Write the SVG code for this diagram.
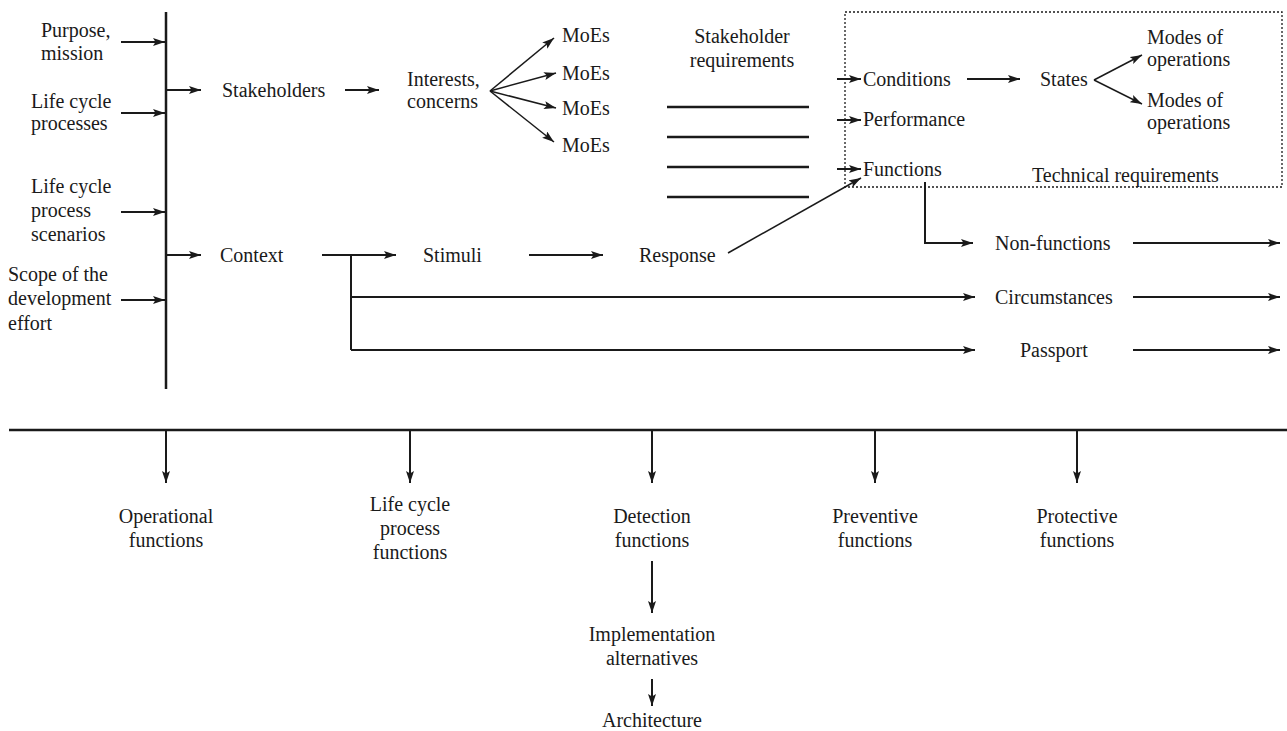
<svg xmlns="http://www.w3.org/2000/svg" width="1287" height="731" viewBox="0 0 1287 731">
  <defs>
    <marker id="arrow" markerUnits="userSpaceOnUse" markerWidth="12" markerHeight="8" refX="12" refY="4" orient="auto">
      <path d="M0,0 L12,4 L0,8 L2.5,4 z" fill="#1a1a1a"/>
    </marker>
    <style>
      .lbl text { font-family: 'Liberation Serif', Tinos, 'DejaVu Serif', serif; font-size: 20px; fill: #1a1a1a; }
      .c { text-anchor: middle; }
      .ln { stroke: #1a1a1a; stroke-width: 2; fill: none; }
      .bar { stroke: #1a1a1a; stroke-width: 2.5; fill: none; }
      .thin { stroke: #1a1a1a; stroke-width: 1.5; fill: none; }
      .arr { marker-end: url(#arrow); }
      .box { stroke: #1a1a1a; stroke-width: 1.3; stroke-dasharray: 2 2; fill: none; }
    </style>
  </defs>
  <rect width="1287" height="731" fill="#ffffff"/>

  <!-- connectors -->
  <g id="connectors">
    <!-- collector bar -->
    <line class="bar" x1="166" y1="12" x2="166" y2="389"/>
    <line class="ln arr" x1="121" y1="42" x2="165" y2="42"/>
    <line class="ln arr" x1="121" y1="113" x2="165" y2="113"/>
    <line class="ln arr" x1="121" y1="212" x2="165" y2="212"/>
    <line class="ln arr" x1="121" y1="300" x2="165" y2="300"/>
    <line class="ln arr" x1="166" y1="90" x2="201" y2="90"/>
    <line class="ln arr" x1="166" y1="255" x2="201" y2="255"/>
    <!-- stakeholders chain -->
    <line class="ln arr" x1="345" y1="90" x2="379" y2="90"/>
    <line class="thin arr" x1="490" y1="91" x2="554" y2="38"/>
    <line class="thin arr" x1="490" y1="91" x2="556" y2="73"/>
    <line class="thin arr" x1="490" y1="91" x2="556" y2="108"/>
    <line class="thin arr" x1="490" y1="91" x2="554" y2="142"/>
    <!-- stakeholder requirement rows -->
    <line class="bar" x1="667" y1="107" x2="809" y2="107"/>
    <line class="bar" x1="667" y1="137" x2="809" y2="137"/>
    <line class="bar" x1="667" y1="167" x2="809" y2="167"/>
    <line class="bar" x1="667" y1="197" x2="809" y2="197"/>
    <!-- into technical requirements -->
    <line class="ln arr" x1="837" y1="79" x2="861" y2="79"/>
    <line class="ln arr" x1="837" y1="120" x2="861" y2="120"/>
    <line class="ln arr" x1="837" y1="169" x2="861" y2="169"/>
    <line class="ln arr" x1="967" y1="79" x2="1020" y2="79"/>
    <line class="thin arr" x1="1094" y1="80" x2="1142" y2="55"/>
    <line class="thin arr" x1="1094" y1="80" x2="1142" y2="104"/>
    <!-- context chain -->
    <line class="ln arr" x1="322" y1="255" x2="396" y2="255"/>
    <polyline class="ln" points="351,255 351,350"/>
    <line class="ln arr" x1="351" y1="350" x2="975" y2="350"/>
    <line class="ln arr" x1="351" y1="297" x2="975" y2="297"/>
    <line class="ln arr" x1="529" y1="255" x2="603" y2="255"/>
    <line class="thin arr" x1="728" y1="253" x2="861" y2="178"/>
    <polyline class="ln arr" points="925,182 925,243 973,243"/>
    <line class="ln arr" x1="1133" y1="243" x2="1280" y2="243"/>
    <line class="ln arr" x1="1133" y1="297" x2="1280" y2="297"/>
    <line class="ln arr" x1="1133" y1="350" x2="1280" y2="350"/>
    <!-- function classes -->
    <line class="bar" x1="9" y1="430" x2="1287" y2="430"/>
    <line class="ln arr" x1="166" y1="430" x2="166" y2="483"/>
    <line class="ln arr" x1="410" y1="430" x2="410" y2="483"/>
    <line class="ln arr" x1="652" y1="430" x2="652" y2="483"/>
    <line class="ln arr" x1="875" y1="430" x2="875" y2="483"/>
    <line class="ln arr" x1="1077" y1="430" x2="1077" y2="483"/>
    <line class="ln arr" x1="652" y1="561" x2="652" y2="613"/>
    <line class="ln arr" x1="652" y1="679" x2="652" y2="706"/>
  </g>

  <g class="lbl" font-family="Liberation Serif, Tinos, DejaVu Serif, serif" font-size="20">
    <!-- technical requirements frame -->
    <g id="technical-requirements">
      <rect class="box" x="845" y="12" width="437" height="175"/>
      <text x="1032" y="182">Technical requirements</text>
    </g>

    <!-- inputs -->
    <g id="purpose"><text x="41" y="37">Purpose,</text><text x="41" y="60">mission</text></g>
    <g id="life-cycle-processes"><text x="31" y="108">Life cycle</text><text x="31" y="130">processes</text></g>
    <g id="life-cycle-scenarios"><text x="31" y="193">Life cycle</text><text x="31" y="217">process</text><text x="31" y="241">scenarios</text></g>
    <g id="scope"><text x="8" y="281">Scope of the</text><text x="8" y="305">development</text><text x="8" y="330">effort</text></g>

    <!-- stakeholder branch -->
    <g id="stakeholders"><text x="222" y="97">Stakeholders</text></g>
    <g id="interests"><text x="407" y="86">Interests,</text><text x="407" y="108">concerns</text></g>
    <g id="moes">
      <text x="562" y="42">MoEs</text>
      <text x="562" y="80">MoEs</text>
      <text x="562" y="115">MoEs</text>
      <text x="562" y="152">MoEs</text>
    </g>
    <g id="stakeholder-requirements"><text class="c" x="742" y="43">Stakeholder</text><text class="c" x="742" y="67">requirements</text></g>

    <!-- technical requirement items -->
    <g id="conditions"><text x="863" y="86">Conditions</text></g>
    <g id="performance"><text x="863" y="126">Performance</text></g>
    <g id="functions"><text x="863" y="176">Functions</text></g>
    <g id="states"><text x="1040" y="86">States</text></g>
    <g id="modes-1"><text x="1147" y="44">Modes of</text><text x="1147" y="66">operations</text></g>
    <g id="modes-2"><text x="1147" y="107">Modes of</text><text x="1147" y="129">operations</text></g>

    <!-- context branch -->
    <g id="context"><text x="220" y="262">Context</text></g>
    <g id="stimuli"><text x="423" y="262">Stimuli</text></g>
    <g id="response"><text x="639" y="262">Response</text></g>
    <g id="non-functions"><text x="995" y="250">Non-functions</text></g>
    <g id="circumstances"><text x="995" y="304">Circumstances</text></g>
    <g id="passport"><text x="1020" y="357">Passport</text></g>

    <!-- function classes -->
    <g id="operational"><text class="c" x="166" y="523">Operational</text><text class="c" x="166" y="547">functions</text></g>
    <g id="life-cycle-functions"><text class="c" x="410" y="511">Life cycle</text><text class="c" x="410" y="535">process</text><text class="c" x="410" y="559">functions</text></g>
    <g id="detection"><text class="c" x="652" y="523">Detection</text><text class="c" x="652" y="547">functions</text></g>
    <g id="preventive"><text class="c" x="875" y="523">Preventive</text><text class="c" x="875" y="547">functions</text></g>
    <g id="protective"><text class="c" x="1077" y="523">Protective</text><text class="c" x="1077" y="547">functions</text></g>
    <g id="implementation"><text class="c" x="652" y="641">Implementation</text><text class="c" x="652" y="665">alternatives</text></g>
    <g id="architecture"><text class="c" x="652" y="727">Architecture</text></g>
  </g>
</svg>
